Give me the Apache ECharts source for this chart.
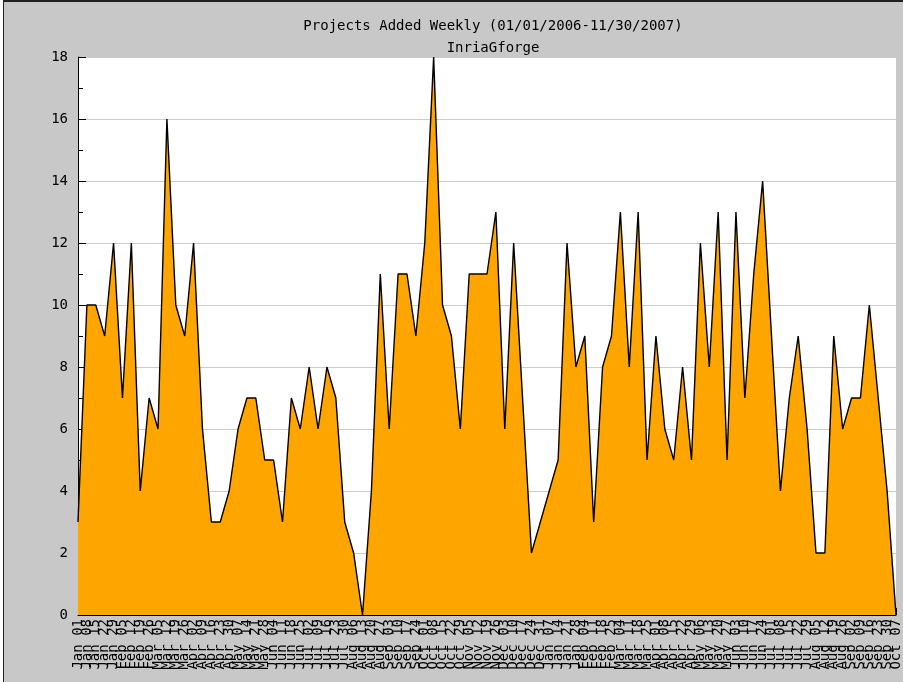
<!DOCTYPE html>
<html>
<head>
<meta charset="utf-8">
<script src="https://cdn.jsdelivr.net/npm/echarts@6/dist/echarts.min.js"></script>
<style>
  html, body { margin: 0; padding: 0; background: #ffffff; }
  #frame { position: absolute; left: 3px; top: 0; width: 900px; height: 682px; background: #c8c8c8; border-top: 2px solid #222; border-left: 1px solid #222; box-sizing: border-box; }
  #chart { position: absolute; left: 0; top: 0; width: 903px; height: 682px; }
</style>
</head>
<body>
<div id="frame"></div>
<div id="chart"></div>
<script>
const titleText = 'Projects Added Weekly (01/01/2006-11/30/2007)';
const subtitleText = 'InriaGforge';

const weeks = [
  'Jan 01','Jan 08','Jan 15','Jan 22','Jan 29','Feb 05','Feb 12','Feb 19','Feb 26',
  'Mar 05','Mar 12','Mar 19','Mar 26','Apr 02','Apr 09','Apr 16','Apr 23','Apr 30',
  'May 07','May 14','May 21','May 28','Jun 04','Jun 11','Jun 18','Jun 25',
  'Jul 02','Jul 09','Jul 16','Jul 23','Jul 30','Aug 06','Aug 13','Aug 20','Aug 27',
  'Sep 03','Sep 10','Sep 17','Sep 24','Oct 01','Oct 08','Oct 15','Oct 22','Oct 29',
  'Nov 05','Nov 12','Nov 19','Nov 26','Dec 03','Dec 10','Dec 17','Dec 24','Dec 31',
  'Jan 07','Jan 14','Jan 21','Jan 28','Feb 04','Feb 11','Feb 18','Feb 25',
  'Mar 04','Mar 11','Mar 18','Mar 25','Apr 01','Apr 08','Apr 15','Apr 22','Apr 29',
  'May 06','May 13','May 20','May 27','Jun 03','Jun 10','Jun 17','Jun 24',
  'Jul 01','Jul 08','Jul 15','Jul 22','Jul 29','Aug 05','Aug 12','Aug 19','Aug 26',
  'Sep 02','Sep 09','Sep 16','Sep 23','Sep 30','Oct 07'
];

const projectsAdded = [
  3, 10, 10, 9, 12, 7, 12, 4, 7, 6,
  16, 10, 9, 12, 6, 3, 3, 4, 6, 7,
  7, 5, 5, 3, 7, 6, 8, 6, 8, 7,
  3, 2, 0, 4, 11, 6, 11, 11, 9, 12,
  18, 10, 9, 6, 11, 11, 11, 13, 6, 12,
  7, 2, 3, 4, 5, 12, 8, 9, 3, 8,
  9, 13, 8, 13, 5, 9, 6, 5, 8, 5,
  12, 8, 13, 5, 13, 7, 11, 14, 9, 4,
  7, 9, 6, 2, 2, 9, 6, 7, 7, 10,
  7, 4, 0
];

const yMin = 0, yMax = 18, yStep = 2;

const FONT = '"DejaVu Sans Mono", "Liberation Mono", monospace';

const chart = echarts.init(document.getElementById('chart'), null, { renderer: 'canvas' });
chart.setOption({
  backgroundColor: 'transparent',
  animation: false,
  title: [
    { text: titleText, left: 488, top: 14, textAlign: 'center',
      textStyle: { fontFamily: FONT, fontSize: 14, fontWeight: 'normal', color: '#000' } },
    { text: subtitleText, left: 488, top: 36, textAlign: 'center',
      textStyle: { fontFamily: FONT, fontSize: 14, fontWeight: 'normal', color: '#000' } }
  ],
  grid: {
    left: 78, right: 5, top: 57, bottom: 67,
    show: true, backgroundColor: '#ffffff', borderWidth: 0
  },
  xAxis: {
    type: 'category',
    data: weeks,
    boundaryGap: false,
    axisLine: { show: true, lineStyle: { color: '#000', width: 1 } },
    axisTick: { show: true, inside: true, length: 7, interval: 0, lineStyle: { color: '#000' } },
    axisLabel: { show: true, interval: 0, rotate: 90, margin: 4, hideOverlap: false,
      fontFamily: FONT, fontSize: 14, color: '#000' },
    splitLine: { show: false }
  },
  yAxis: {
    type: 'value',
    min: yMin, max: yMax, interval: yStep,
    axisLine: { show: true, lineStyle: { color: '#000', width: 1 } },
    axisTick: { show: true, inside: true, length: 8, lineStyle: { color: '#000' } },
    minorTick: { show: true, splitNumber: 2, length: 5, lineStyle: { color: '#000' } },
    axisLabel: { margin: 10, fontFamily: FONT, fontSize: 14, color: '#000' },
    splitLine: { show: true, lineStyle: { color: '#cccccc', width: 1 } }
  },
  series: [{
    type: 'line',
    data: projectsAdded,
    showSymbol: false,
    symbol: 'none',
    smooth: false,
    lineStyle: { color: '#000000', width: 1.4 },
    areaStyle: { color: '#ffa500', opacity: 1 },
    z: 2
  }]
});
</script>
</body>
</html>
